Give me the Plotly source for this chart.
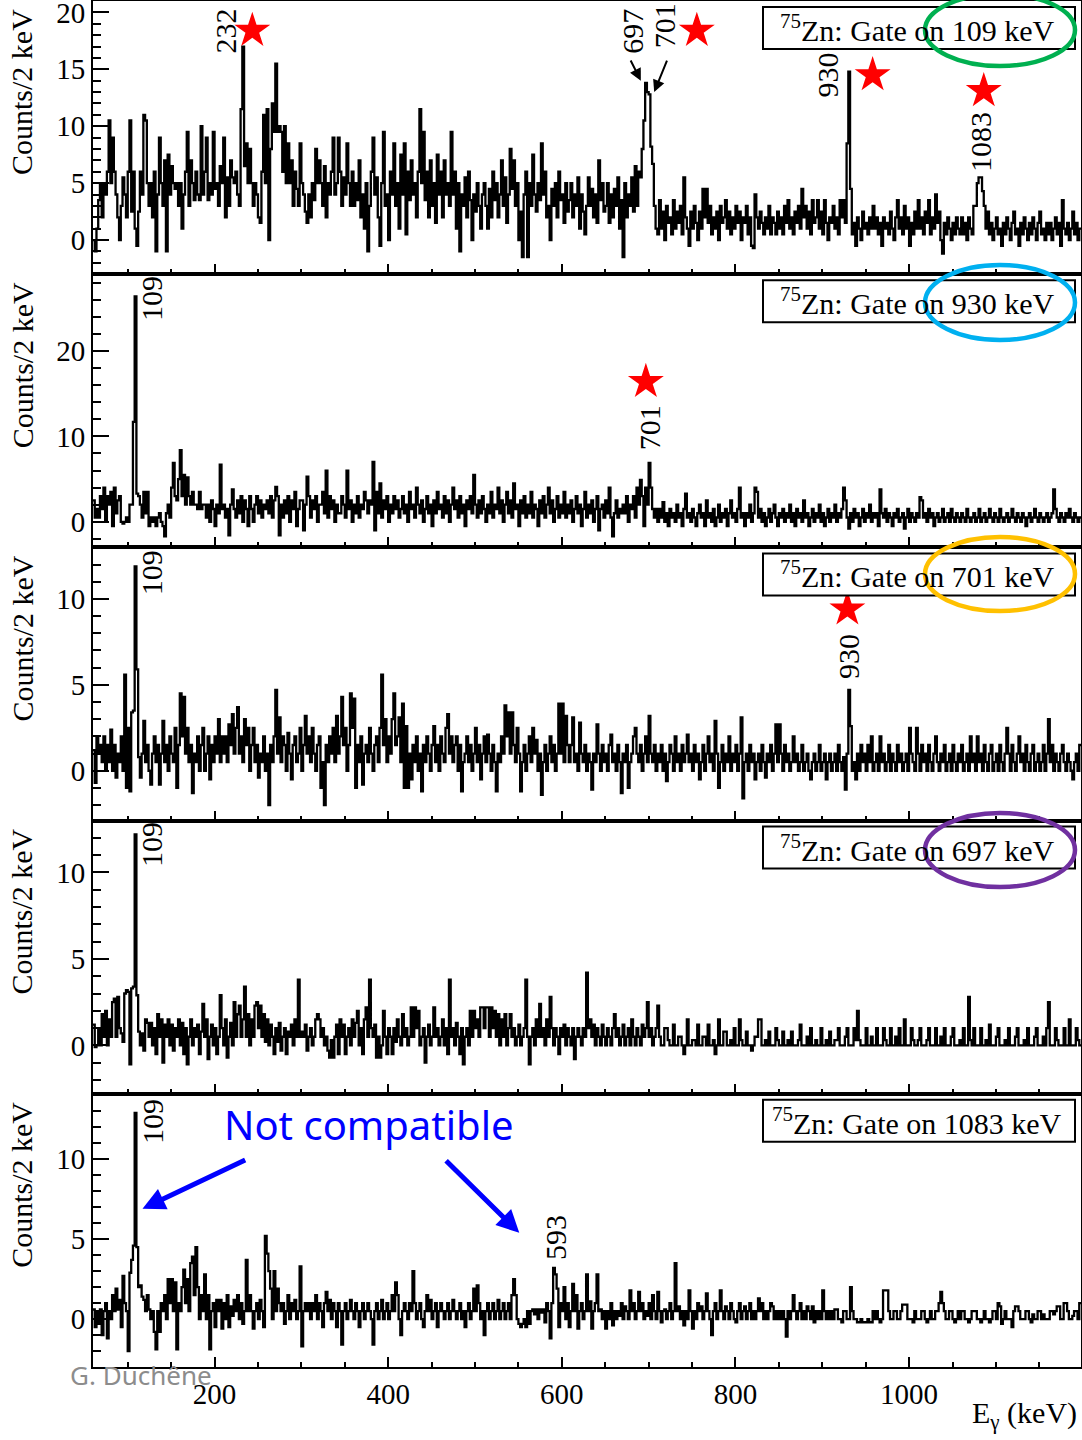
import plotly.graph_objects as go
from plotly.subplots import make_subplots

# ---------------- data ----------------
E_START = 60      # keV, lower edge of first bin
BIN_W = 2         # keV per bin (Counts/2 keV)
ROW_SPAN = 50     # each row of values below covers 50 keV (25 bins)
E_MAX = 1198
XTICK_MAJOR = 200
XTICK_MINOR = 50

gate_109 = [
    [0, -1, 1, 3.5, 5, 2, 5, 4, 6, 10.5, 5, 9, 6, 4, 2, 0, 3, 5.5, 4, 2, 6, 10.5, 2.5, 6, 1],
    [-0.5, 2.5, 6, 4, 11, 10.5, 5, 3, 5, 2, 6, -1, 4, 9, 5, 3, 7, -1, 7.5, 4, 6.5, 5, 4.5, 5, 3],
    [5, 1, 4, 6, 9.5, 3, 7, 5, 3.5, 6, 4, 3.5, 10, 4, 6, 9, 3.5, 5, 4, 9.5, 4.5, 5, 3, 6.5, 5],
    [9, 2, 5.5, 3, 7, 5.5, 5, 6, 4, 3, 11.5, 17, 6.5, 8.5, 5, 8, 5, 3, 5, 4, 2, 1.5, 6, 11, 5],
    [11.5, 0, 8, 12, 9.5, 15.5, 9.5, 10, 9.5, 6, 10, 5, 8.5, 5, 7, 3, 6, 4.5, 3, 8.5, 5, 4, 2.5, 1.5, 4],
    [2, 5, 3.5, 8, 5, 7, 5, 3, 6.5, 2, 5, 4, 6, 9, 4, 5, 9, 6, 3, 5.5, 4, 8.5, 5, 3, 6],
    [3, 5, 3.5, 7, 2, 4, 1, 5, -1, 3, 6, 9, 4, 5.5, 2, -0.5, 5, 9.5, 3, 4, 0, 6, 4, 8.5, 3],
    [5, 1, 7.5, 4, 8.5, 0.5, 6, 3.5, 7, 4, 5, 2, 6, 11.5, 5, 9.5, 3.5, 6, 2, 7, 3, 5, 1.5, 7.5, 4],
    [6, 2, 7, 4, 5, 3, 9.5, 4, 6, 1, 5, -1, 4, 3, 5.5, 2, 6, 3.5, 0, 4, 2.5, 5, 3, 1, 4],
    [5, 3, 1, 4.5, 2, 6, 3.5, 5, 2, 4, 7, 3, 5.5, 1.5, 4, 8, 4.5, 7, 3, 5, 0, 2.5, -1.5, 4, 6],
    [-1.5, 5, 3, 7.5, 4, 2.5, 5, 3.5, 8.5, 4, 6, 2, 3, 0, 4.5, 3, 5, 2, 6, 3.5, 4, 1.5, 5, 2.5, 3.5],
    [5, 2, 4, 3, 5.5, 1, 4, 2.5, 0.5, 3, 5.5, 3, 4.5, 2, 4, 1.5, 7, 3.5, 5, 2.5, 3, 5, 1.5, 4, 2],
    [4.5, 3, 5.5, 1, 3.5, -1.5, 5, 2, 4, 3, 5.5, 2.5, 6.5, 3, 6, 5.5, 8, 10.5, 13.8, 13, 12.8, 8.2, 6.7, 3, 1],
    [0.5, 3.5, 1, 2.5, 0, 3, 1.5, 2, 0.5, 3.5, 1, 2.5, 1.5, 3, 0.5, 5.5, 2, 1, -0.5, 2.5, 1, 3, 1.5, 0, 2.5],
    [1, 4.5, 2, 4.5, 1.5, 3, 0.5, 2, 1, 2.5, 0, 3, 1.5, 2, 3.5, 1, 2.5, 0.5, 2, 1, 3, 1.5, 2.5, 0, 2],
    [1.5, 3, 0.5, 2, -0.5, -0.7, 4, 2, 1, 2.5, 1.5, 0.5, 2, 1, 3, 0.5, 2, 1.5, 0.5, 2.5, 1, 2, 0.5, 3, 1.5],
    [3.5, 1, 2, 0.5, 2.5, 1.5, 3, 1, 4.5, 2, 3, 1, 2.5, 0.5, 3.5, 1.5, 2, 3.5, 1, 2.5, 0.5, 3.5, 1.5, 0, 2],
    [1.5, 3, 1, 2, 0.5, 3.5, 2, 3.5, 1.5, 8.5, 14.8, 4.5, 0.5, 1.5, -0.5, 2, 1, 0, 2.5, 1, 1.5, 0.5, 2, 1, 3],
    [1, 2, 0.5, 1.5, -0.5, 2, 1, 1.5, 0.5, 2.5, 1, 0, 2, 3.5, 1, 2, 0.5, 3, 1, 2, -0.5, 1.5, 0.5, 2.5, 1],
    [3.5, 1, 2, 0.5, 2.5, 1.5, 3.5, 0.5, 2, 1, 4, 1.5, 2.5, 0, -1.2, 1.5, 0.5, 2, 1, 0, 1.5, 0.5, 2, 1, 0.5],
    [2, 0.5, 1.5, 0, 2, 1, 0.5, 3, 3, 5, 5.5, 5.5, 4.3, 3, 1, 2.5, 0.5, 1.5, 0, 1, 2, 0.5, 1, -0.5, 1.5],
    [0.5, 2, 1, 0, 1.5, 2.5, 0.5, 1, -0.5, 1.5, 0.5, 2, 1, 0, 1.5, 0.5, 2, 1, 0, 1.5, 2.5, 0.5, 1, 0, 1.5],
    [0.5, 1.5, 0, 1, 2, 0.5, 1.5, -0.5, 3.5, 1, 0.5, 1.5, 0, 1, 2.5, 0.5, 1.5, 0, 1],
]

gate_930 = [
    [2.5, 0.5, 1.5, 0.5, 3, 1.5, 4, 0, 3, 2, 3.5, -0.5, 4, 1, 2.5, 3, 0, -0.2, 0, 0.5, 0, 2, 2, 11.7, 26.4],
    [3.3, 3, 2, 0.5, 3.5, 1, 3.5, -0.5, 0.5, 0, 0.5, -0.5, 0.5, 1, 0, -0.5, -1.7, 1, 2, 0.5, 4, 6.9, 3, 2.5, 5],
    [8.4, 3, 5.5, 2, 5.2, 3, 2, 3.5, 2, 2, 1.5, 3.5, 1.5, 2, 2, 0.5, 2, 0, 2.5, 1.5, -0.5, 2, 1, 6.7, 1.5],
    [2, 0.5, 1.5, -1.6, 2, 3.8, 1.5, 0.5, 2.5, 1, 3, 0, 2.5, 1.5, -0.5, 3, 1.5, 0, 2, 3, 1, 2.5, 0.5, 2, 1.5],
    [2.5, 1, 3, 0.5, 2.5, 4.1, 3, -1.6, 2, 0.5, 2.5, 1, 3, 0, 2.5, 1.5, 3.5, -0.5, 1.5, 2.5, 2.5, -1, 2, 5.3, 3],
    [0.5, 2.5, 1.5, 3, 0, 2, 2, 3.5, 1, 6, 0.5, 3, 1.5, 2.5, 0, 2, 1, 1, 3, 2, 0.5, 6, 1.5, 2.5, 0],
    [2, 1, 3, 0.5, 2, 1.5, 3.5, 2.5, 1, 2.5, 2, 7, -1, 3.5, 1, 4.5, 0.5, 2.5, 1.5, 3, 0, 2, 1, 3, 1.5],
    [2.5, 0.5, 1.5, 3, 1, 2, 0, 3.5, 1.5, 2, 0.5, 4, 2, 1, 2.5, 0, 1.5, 3, 1, 2, -0.5, 2.5, 1, 3.5, 1.5],
    [2, 0.5, 3, 1, 2.5, 0, 2, 4, 1.5, 2.5, 0.5, 3, 1, 2, -0.5, 2.5, 1.5, 3, 1, 5.5, 2, 0.5, 2.5, 1, 3],
    [1.5, 0, 2, 1, 3.5, 0.5, 2, 1.5, 4, 1, 2.5, 0, 2, 3.5, 1, 2.5, 0.5, 4.5, 1.5, 2, -0.5, 2.5, 1, 3, 0.5],
    [2, 1, 3.5, 0.5, 2, 1.5, -0.5, 2.5, 1, 3, 0.5, 2, 4, 1, 2.5, 0, 1.5, 3, 0.5, 2, 1, 3.5, 0.5, 2, 1],
    [2.5, 0, 1.5, 3, 1, 2, -0.5, 1.5, 3.5, 0.5, 2, 1, 2.5, 0, 1.5, 3, -1, 1.5, 2, 0.5, 2.5, 1, 4, 0.5, -1.7],
    [1, 2.5, 0.5, 1.5, 1, 2, 1, 3, 0, 2, 1.5, 3, 0.5, 4, 2, 4.9, 3, -0.5, 4, 2, 6.9, 4, 1.5, 0.5, 1.5],
    [0, 1.5, 0.5, 2.3, 0, 1, -0.5, 1.5, 0.5, 1, 0, 2, 0.5, 1, -0.5, 1.5, 3.3, 0.5, 1, 0, 1.5, 0.5, -0.5, 1, 2],
    [0.5, 1, -0.5, 2.5, 0.5, 1, 0, 1.5, -0.5, 0.5, 2, 0, 1, 0.5, 1.5, -0.5, 1, 2.5, 0.5, 1, 0, 1.5, 4, 0.5, 1],
    [-0.5, 1, 0.5, 2, 0, 1, 4, 3.5, 0.5, 1.5, 0, 1, -0.5, 0.5, 1.5, 0, 1, 2, 0.5, -0.5, 1, 0.5, 1.5, 0, 1],
    [0.5, 2, 0, 1, -0.5, 1.5, 0.5, 1, 0, 2.5, 0.5, 1, -0.5, 0.5, 1.5, 0, 1, 0.5, 2, 0, 1, -0.5, 0.5, 1.5, 0],
    [1, 0.5, 2, 0, 1, 0.5, 1.5, 4, 2.5, 0.5, -0.8, 1, 0, 1.5, 0.5, 1, -0.5, 0.5, 1.5, 0, 1, 0.5, 2, 0, 1],
    [0.5, 1, -0.5, 3.8, 1, 0.5, 1.5, 0, 1, 0.5, -0.5, 1, 0.5, 1.5, 0, 0.5, 1, -0.8, 0.5, 1.5, 0, 1, 0.5, 0, 1],
    [0.5, 2.9, 2.5, 0.5, 1, 0, 1.5, 0.5, 1, -0.5, 0.5, 1, 0, 0.5, 1.5, 0, 0.5, 1, 0, 1.5, 0.5, 0, 1, 0.5, 0],
    [1, 0.5, 0, 1.5, 0.5, 0, 0.5, 1, 0, 0.5, 1.5, 0, 0.5, 1, 0, 0.5, 1.5, 0.5, 0, 1, 0.5, 0, 1.5, 0.5, 0],
    [0.5, 1, 0, 0.5, 1.5, 0.5, 0, 1, 0.5, 0, 1, 0.5, -0.5, 0.5, 1, 0, 0.5, 1.5, 0.5, 0, 1, 0.5, 0, 0.5, 1],
    [0, 0.5, 1, 3.8, 1.5, 0.5, 0, 1, 0.5, 0, 1, 0.5, 1.5, 0.5, 0, 1, 0.5, 0, 0.5],
]

gate_701 = [
    [1.2, -0.7, 2, 1, 1.5, 0.5, 2, 0, 1.5, 0.5, 2.4, 0, 1.5, -0.4, 1, 0.5, 2, 0, 5.6, -1, 2.5, -1.2, 3.4, 3.5, 11.9],
    [5.9, 0.8, -0.4, 1, 2.9, 0.5, 1.5, 0, -0.8, 1, 2, 0.5, 1.5, -0.8, 1, 2.9, 0.5, 1.5, 0, 2, 1, 0.5, 2.5, -1, 1.5],
    [4.5, 2, 4.3, 1, 2.5, 0.5, 1.5, -1.3, 1, 0.5, 2, 0, 1.5, 2.5, 0, 1, 2, -0.5, 1.5, 0.5, 2, 1, 3, 0.5, 2],
    [1, 2, 0.5, 2.7, 1.5, 3.3, 1, 2.5, 3.7, 1, 2, 0.5, 3, 1.5, 2.5, 0, 1.5, 2.5, 0.5, 1.5, -0.4, 1, 0.5, 2, 0],
    [1, -2, 1.5, 0.5, 2, 4.7, 1, 3.1, 0.5, 2, 1.5, 0, 2.2, 1, -0.5, 1.5, 2, 0.5, 1, 2.5, 0, 1.5, 3.2, 1, 2],
    [0.5, 2.5, 1, 0, 1.5, 2, -1, 0.5, -2, 1.5, 0.5, 2, 1, 2.5, 0.5, 3.2, 1, 2, 4.3, 1.5, 2.5, 0, 1.5, 4.5, 2.5],
    [4.2, -1, 1.5, 0.5, 2, -0.8, 1, 1.5, 0.5, 2.5, 1, 0, 1.5, 2, 0.5, 2.5, 5.6, 1.5, 3, 0.5, 2, 1, 3, 4.5, 1.5],
    [2, 3.1, 0.5, 3.9, -1, 2.6, -1, 1, -0.5, 1.5, 0.5, 2, 0, 1, -1.2, 1.5, 0.5, 2, 1, 0, 1.5, 2.6, 0.5, 1.5, 0],
    [2, 1, 0.5, 2.5, 3.3, 1, 2, 0.5, 1.5, 2, 0, 1.5, -1.2, 0.5, 1, 2, 0.5, 1.5, 0, 1, 2.5, 0.5, 1.5, -0.5, 1],
    [2, 0.5, 2.1, 1, 0, 1.5, 0.5, -1.2, 1, 0.5, 2, 1, 3.8, 2, 3.4, 1, 3.4, 1.5, 0.5, 2.5, 1, -1.2, 0.5, 1.5, 0],
    [1, 2, 0.5, 2.5, 1, 1.8, 0, 1, -1.4, 0.5, 1.5, 0, 1, 2, 0.5, 1.5, 0, 1, 3.9, 1, 3.9, 0.5, 3.2, 1.5, 0.5],
    [1.5, 3.1, 0.5, 1, 0, 2.8, 1, 0.5, 1.5, 0, 1, 0.5, -1.1, 1, 0.5, 2.7, 1, 0, 1.5, 0.5, 1, 0, 1.5, 2.1, 0.5],
    [1, 0, 1.5, 0.5, -1.3, 1, 0.5, 1.5, -1, 0.5, 1, 2, 2.5, 1, 0.5, 1.5, 0, 1, 2, 0.5, 3.2, 1, 0.5, 1.5, 0],
    [1, 0.5, 1.5, 0, 1, -0.6, 0.5, 1.5, 1, 0, 2, 0.5, 1, 0, 1.5, 0.5, 1, 2.1, 0.5, 1, 0, 1.5, 0.5, 1, -0.5],
    [0.5, 1.5, 0, 1, 2, 0.5, 1, 0, 2.9, 1, -1, 0.5, 1.5, 0, 1, 0.5, 2, 0, 1, 0.5, 1.5, 0, 1, 3.1, -1.6],
    [0.5, 1, 0, 1.5, 0.5, 1, -0.5, 0.5, 1, 0, 1.5, 0.5, -0.4, 1, 0.5, 1.5, 0, 1, 2.7, 0.5, 2.7, 1, 0, 1.5, 0.5],
    [1, 0, 0.5, 2, 0.5, 1, 0, 0.5, 1.5, 0, 0.5, 1, 0, -0.5, 0.5, 1, 0, 0.5, 1.5, 0, 0.5, 1, -0.5, 0.5, 1],
    [0, 0.5, 1, 0, 1.5, 0.5, 0, 0.8, -1.1, 1, 4.7, 2.6, 0, 0.5, -0.5, 1, 0, 1.5, 0.5, 1, 0, 1.5, 0.5, 2, 0],
    [0.5, 1, 0, 2, 0.5, 1, 0, 0.5, 1.5, 0, 1, 0.5, 0, 1.5, 0.5, 1, 0, 0.5, 1, 0, 2.5, 1, 0.5, 0, 2.5],
    [1, 0, 1.5, 0.5, 1, 0, 1.5, 0.5, 0, 1, 2, 0.5, 0, 1, 0.5, 1.5, 0, 0.5, 1, 0, 1.5, 0.5, 0, 1, 0.5],
    [1.5, 0, 0.5, 1, 0, 2, 0.5, 1, 0, 2, 0.5, 1, 0, 1.5, 0.5, 0, 1, 1.5, 0, 0.5, 1, 0, 1.5, 0.5, 0],
    [1, 2.5, 1, 0, 1.5, 0.5, 0, 1, 2, 0.5, 1, 0, 1.5, 0.5, 0, 1, 1.5, 0, 0.5, 1, 0, 0.5, 1.5, 0, 1],
    [3, 0.5, 1.5, 0, 1, 0.5, 0, 1, 1.5, 0.5, 0, 1, 0.5, 0, -0.5, 0.5, 1, 0, 1.5],
]

gate_697 = [
    [1.2, -0.1, 0, 1, 0, 1.8, 0.5, 2, 0, 1.5, 0.5, 2.5, 2.7, 0.5, 2.8, 1, 0.7, 0.2, 3, 3.2, 3.1, -1.1, 3.3, 3.4, 12.2],
    [2.9, 0.8, 0, 0.7, -0.3, 1.5, 1.3, 0.5, 1.3, 0, 1, -0.5, 1.8, 0.5, 1.5, -1, 1.2, 0.5, 1.5, 0, 1.2, -0.3, 1, 0.5, 1.5],
    [0, 1.3, -0.5, 1, -1.1, 0.5, 1.5, 0, 1, 0.5, 1.2, -0.5, 0.8, 2.4, 0.5, 1.5, -0.8, 0.5, 1.2, 0, 1, -0.5, 0.5, 2.9, 1],
    [0, 1.5, -0.7, 0.5, 1.3, 0, 2.5, 0.5, 1.8, 2.3, 0.5, 1.5, 3.4, 0.5, 1.8, 0, 1.5, 0.5, 2.3, 2.5, 1, 2.3, 0.5, 1.8, 0.2],
    [1.5, 0, 1.2, 0.5, -0.5, 1, 0.2, 1.3, -0.3, 0.5, 1, -0.5, 0.8, 0.5, 1.2, 0, 1.5, 0.5, 3.8, 0.5, 0.8, 0.5, 1.2, -0.3, 0.5],
    [1, 0, 0.5, 1.5, 1.8, 1.5, 0.5, 1, 0, 0.5, -0.3, -0.7, 0.3, -0.7, 0.5, 1.2, -0.5, 1.5, 0.5, 1.2, -0.5, 0.5, 1, 0, 1.5],
    [0.5, 1.3, 2, 0, 1, -0.5, 1.5, 2.2, 0.5, 3.8, 1, 0.5, 1.2, -0.7, 0.5, -0.7, 0, 2, 0.5, -0.5, 1, 0.5, -0.5, 1, 0.2],
    [1.5, 0.5, 0, 1.8, 0.5, 1, 0, 0.5, 2.2, 0.5, 2.2, 1, 2, 0, 0.5, 1, -1, 0.5, 1.2, 0, 0.5, 2.2, 0.5, 1, 0],
    [0.5, 1.5, 0, 1, -0.5, 3.8, 0.5, 1, 0, 1.3, 0.5, -0.5, 1, -1.1, 0.5, 1, 0, 2, 0.5, 2, 1, 1.5, 0.5, 2.2, 2.2],
    [1, 2.2, 2.2, 0.5, 2.2, 1, 2, 0.5, 1.8, 0, 1.5, 0.5, 1.8, 0, 1, 1.8, 0.5, 1, 0, 0.5, 1.2, 0, 0.5, 1, 3.8],
    [0.5, -1.1, 0.5, 1, 0, 1.5, 0.5, 2.4, 0.5, 1, 0, 1.5, 0.5, 2.8, 1, 0, 1, 0.5, -0.5, 1, 0.5, 1.2, 0, 1, 0.5],
    [0, 1, -0.8, 0.5, 1, 0.5, 0, 1, 0.5, 4.2, 1, 1.5, 0.5, 1.2, 0, 1, 0.5, 0, 1.2, 0.5, 0, 1, 0.5, 0, 1],
    [1.8, 0.5, 1, 0, 0.5, 1.2, 0, 0.5, 1, 0, 1.5, 0.5, 0, 1, 0.5, 0, 1.2, 0.5, 1, 2.5, 0.5, 1, 0, 0.5, 1],
    [2.3, 0.5, 0, 0, 1, 1, 0.3, 0, 0, 1.2, 0, 0, 0.5, 0.5, 0, -0.5, 0, 1.5, 0, 0, 0.3, 0.3, 0, 1.2, 0],
    [0, 0.5, 0.5, 0, 1.2, 0, 0, 0.3, -0.5, 0, 1.5, 0, 0, 0.8, 0.8, 0, 0, 0.3, 0, 1, 0, 0, 1.5, 0.3, 0],
    [0, 0.8, 0, 0, -0.3, 0, 0.5, 0.5, 1.5, 1.5, 0, 0, 0.3, 0, 0.8, 0, 0, 0, 1, 0.3, 0, 0, 0.8, 0, 0],
    [0.3, 0, 0.8, 0, 0, 0, 0.3, 1.2, 0, 0, 0, 0.5, 0, 1, 0, 0, 0.3, 0, 0, 1, 0, 0, 0.3, 0, 0.8],
    [0, 0, 0.3, 0.3, 1, 0, 0, 0, 0.5, 1, 0, 0, 0, 1, 0.3, 2, 0.3, 0, 0, 0, 1, 0, 0, 0.5, 0],
    [0, 1, 0, 0, 0, 1, 0.3, 0, 0, 1, 0, 0, 0.5, 0, 1, 0, 0, 1.5, 0, 0, 0, 1, 0.3, 0, 0],
    [0.3, 1, 0, 0, 0, 0.3, 1, 0, 0, 0, 1, 0, 0, 0.5, 0, 1, 0, 0, 0, 0.5, 1, 0, 0, 0, 0.3],
    [0, 1, 0, 0, 2.8, 0.3, 0, 1, 0, 0, 0, 1, 0, 0, 0.3, 0, 1.2, 0, 0, 0, 0.5, 1, 0, 0, 0],
    [0.3, 0, 1, 0, 0, 0, 0.5, 1, 0, 0, 0, 0.3, 0, 1, 0, 0, 0, 0.5, 1, 0, 0, 0, 0.5, 0, 1],
    [2.5, 0, 0, 0, 1, 0.3, 0, 0, 0, 1, 0, 0, 1.5, 0, 0, 0, 1, 0.3, 0],
]

gate_1083 = [
    [0.6, -0.5, 0.5, -0.3, 0.6, -1, 0.5, 1, -1.2, 0.5, 0, 1.5, 0.5, 1.9, 0.6, 1.2, -0.5, 2.7, 1, 0.5, -2, 2.9, 3.7, 4.6, 12.9],
    [4.5, 2, 2.1, 1.4, 1.2, 0.5, 1.5, 0.6, 0, 0.5, -0.8, -1.9, 0.5, -0.8, 1, 0.5, 1.5, 0, 2.5, 1, 2.5, 0.5, 2.3, -1.9, 1],
    [0.5, 2, 3.1, 1, 2.5, 0.5, 3.5, 3.9, 1.5, 4.5, 2, 0, 1.5, 0.5, 2.8, 0, 1.5, -1.9, 0.5, 1, -0.5, 1.2, 0.5, 1.2, -0.6],
    [1, 0, 1.5, -0.5, 0.8, 0.2, 1.2, 0.5, 1.5, 0, 1, -0.3, 0.5, 3.7, 0.5, 1.5, 0.5, -0.6, 0.5, 1, 0, 1.2, 0.5, -0.5, 5.2],
    [4.1, 3, 1.9, 0, 3, 0.5, 1.9, 1, 0.5, 1, -0.3, 0.5, 1.5, 0, 1, 0.5, 1.2, 0, 0.5, 3.3, -1.7, 0.5, 1, 0.5, 1],
    [0, 1, 0.5, 1.5, 0, 1, 0.5, -0.5, 1, 1.7, 0.5, 1.2, 0, 1, 0.5, -0.5, 1, 0.5, -1.6, 0.5, 1, 0, 0.5, 1.2, 0.5],
    [0, 1, 0.5, -0.5, 0.5, 1, 0, 0.5, 1, 0.5, 0, -1.6, 0.5, 1, 0, 0.5, 1.2, 0, 0.5, 1, 0, 0.5, 1.5, 0.5, 2.3],
    [1.5, 0, -1, 0.5, 1, 0.5, 0, 1, 0.5, 3, 1, 0, 0.5, 1, 0, -0.5, 0.5, 1.5, 0.5, 1.2, 0, 0.5, 1, -0.5, 0.5],
    [1, 0.5, 0, 0.5, 1, 0, 0.5, 1.2, 0.5, 0, 0.5, 1, 0, 0.5, -0.5, 0.5, 1, 0, 0.5, 1.9, 0.5, 2.1, 1, 0, 0.5],
    [-1, 0.5, 1, 0, 0.5, 1, 0, 0.5, 1.2, 0, 0.5, 1, 0, 0.5, 1, 0, 1.5, 2.5, 1.5, 0, -0.3, -0.5, -0.3, 0, -0.5],
    [0.5, -0.3, 0.5, 0.6, 0.3, 0.6, 0, 0.6, 0.4, 0.6, -0.2, 1, 0.5, -1.2, 1, 3.2, 2.8, 1.9, -0.5, 1, 0.5, 2, 0, 1, -0.5],
    [0.5, 2.2, 0.5, 1.5, -0.6, 0.5, 1, 0, 0.5, 2.8, 0.5, 1.1, -0.6, 0.5, 1, 2.8, 0.5, 0.6, 0, 0.5, -0.6, 0.5, 0, 1, -0.4],
    [0.5, 0, 0.5, 0.2, 1, 0, 0.8, 0.5, 0, 1.8, 0.5, 1, 0, 0.5, 1.7, 0.5, 1, 0, 0.5, 0.2, 1, 0, 1.5, 0.5, 0],
    [1.7, 0.5, -0.2, 0.5, 0.6, 0, 0.5, 1, 0, 0.5, 3.5, 0.5, 0.8, 0, 0.5, -0.4, 0.5, 0, 1.8, 0.5, -0.6, 0.5, 0, 1, 0.5],
    [0.8, 0, 0.5, 1.6, 0.5, 0, -1, 0.5, 1, 0, 0.5, 1.8, 0.5, 0, 0.8, 0.5, 0, 1, 0.5, 0, -0.2, 0.5, 1, 0, 0.5],
    [0.8, 0, 0.5, 1, 0, 0.5, 0, 0.5, 1.3, 0.5, 1, 0, 0.5, 0, 0.5, 1, 0.8, 0, 0.5, 0, 0.5, 0, 0.5, 0, -1.1],
    [0.5, 0, 0.5, 1.5, 0.5, 0, 0.5, 1, 0, 0.5, 0, 0.8, 0.5, 0, 0.8, -0.2, 0.5, 0, 0.5, 0, 1.8, 0.5, 0, 0.5, 0],
    [0.5, 0, 0.6, 0.6, 0, 0, -0.2, 0.5, 0.5, 0, 0, 2, 0.5, 0, 0, -0.2, -0.2, 0, -0.2, -0.2, -0.2, 0, -0.2, -0.2, 0.5],
    [0, 0.5, 0, -0.2, 0, 1.8, 1.8, 1.8, 0.5, 0, 0, 0.5, 0.5, 0, 0, 0.5, 0.9, 0.9, 0.9, 0, 0, 0, -0.2, 0.5, 0],
    [0, 0, 0.5, 0.5, 0, -0.2, 0, 0.5, 0, 0, 0.5, 0.5, 1, 1.7, 1, 0.5, 0, 0, 0.5, 0.5, 0, -0.2, 0, 0.5, 0],
    [0.5, 0.5, 0, 0, -0.2, 0, 0.5, 0.5, 0.5, 0, 0, -0.2, 0, 0.5, 0, 0, -0.2, 0, 0.5, 0.5, 0, 1, 0.8, -0.3, 0],
    [0.5, 0, 0, 0, -0.5, 0.5, 0.8, 0.8, 0.5, 0, 0, 0, 0.5, 0.5, 0, -0.2, 0.3, 0, 0, 0.5, 0.5, 0, 0.3, 0, 0],
    [0, 0.5, 0.5, 0.3, 0.5, 0.8, 0.8, 0, 0, 1, 1, 0.5, 0, 0, 0.2, 0.5, 0.5, 0, 1],
]

gate_labels = ["109", "930", "701", "697", "1083"]
spectra = [gate_109, gate_930, gate_701, gate_697, gate_1083]
y_ranges = [[-3, 21], [-3, 29], [-2.9, 13], [-2.8, 13], [-3, 14.1]]
y_major = [5, 10, 5, 5, 5]
y_minor = [1, 2, 1, 1, 1]

# peak labels: (panel, text, energy, count at bottom of label)
peak_labels = [
    (1, "232", 212.5, 16.2), (1, "697", 680.5, 16.2), (1, "701", 718.5, 16.7),
    (1, "930", 905.5, 12.3), (1, "1083", 1081.5, 5.8),
    (2, "109", 127.5, 23.3), (2, "701", 700.3, 8.2),
    (3, "109", 127.5, 10.1), (3, "930", 930.8, 5.2),
    (4, "109", 127.5, 10.2),
    (5, "109", 128.0, 10.8), (5, "593", 592.0, 3.6),
]
# red stars: (panel, energy, count)
stars = [
    (1, 243.5, 18.4), (1, 755.5, 18.4), (1, 958.0, 14.5), (1, 1086.0, 13.1),
    (2, 696.8, 16.4), (3, 928.9, 9.4),
]
ellipse_colors = {1: "#00B050", 2: "#00B0F0", 3: "#FFC000", 4: "#7030A0"}

# ---------------- figure ----------------
W, H = 1082, 1440
ML, MR, MT, MB = 93, 1, 1, 73
PW = W - ML - MR
PH = H - MT - MB
SERIF = "Liberation Serif"
SANS = "Noto Sans"


def px2paper_x(px):
    return (px - ML) / PW


def px2paper_y(py):
    return (H - MB - py) / PH


def histogram_xy(rows):
    xs, ys = [], []
    for k, row in enumerate(rows):
        start = E_START + ROW_SPAN * k
        for i, v in enumerate(row):
            xs.append(start + BIN_W * i)
            ys.append(v)
    xs.append(xs[-1] + BIN_W)
    ys.append(ys[-1])
    return xs, ys


fig = make_subplots(rows=5, cols=1, shared_xaxes=True, vertical_spacing=0)

for n, rows in enumerate(spectra, start=1):
    xs, ys = histogram_xy(rows)
    fig.add_trace(go.Scatter(x=xs, y=ys, mode="lines", line=dict(color="black", width=2.3, shape="hv"),
                             showlegend=False, hoverinfo="skip"), row=n, col=1)

for n in range(1, 6):
    sx = [s[1] for s in stars if s[0] == n]
    sy = [s[2] for s in stars if s[0] == n]
    if sx:
        fig.add_trace(go.Scatter(x=sx, y=sy, mode="markers",
                                 marker=dict(symbol="star", size=27, color="#FF0000", line=dict(width=0)),
                                 showlegend=False, hoverinfo="skip"), row=n, col=1)

for n in range(1, 6):
    fig.update_yaxes(row=n, col=1, range=y_ranges[n - 1], dtick=y_major[n - 1], tick0=0,
                     ticks="inside", ticklen=16, tickwidth=2, tickcolor="black",
                     minor=dict(dtick=y_minor[n - 1], ticks="inside", ticklen=8, tickwidth=2, tickcolor="black"),
                     showline=True, linecolor="black", linewidth=2, mirror=True,
                     showgrid=False, zeroline=False, ticklabeloverflow="allow",
                     tickfont=dict(family=SERIF, size=29, color="black"))
    fig.update_xaxes(row=n, col=1, range=[E_START, E_MAX], dtick=XTICK_MAJOR, tick0=0,
                     ticks="inside", ticklen=10, tickwidth=2, tickcolor="black",
                     minor=dict(dtick=XTICK_MINOR, ticks="inside", ticklen=5, tickwidth=2, tickcolor="black"),
                     showline=True, linecolor="black", linewidth=2, mirror=True,
                     showgrid=False, zeroline=False, ticklabeloverflow="allow",
                     tickfont=dict(family=SERIF, size=29, color="black"))

annotations = []
shapes = []
for n in range(1, 6):
    yd = "y domain" if n == 1 else f"y{n} domain"
    # y title
    annotations.append(dict(text="Counts/2 keV", xref="paper", yref=yd, x=px2paper_x(22), y=1 - 91 / (PH / 5),
                            xanchor="center", yanchor="middle", textangle=-90, showarrow=False,
                            font=dict(family=SERIF, size=30, color="black")))
    # gate box
    shapes.append(dict(type="rect", xref="paper", yref=yd, x0=px2paper_x(763), x1=px2paper_x(1075),
                       y0=1 - 48 / (PH / 5), y1=1 - 6 / (PH / 5), line=dict(color="black", width=2),
                       fillcolor="white", layer="above"))
    annotations.append(dict(text=f"<sup>75</sup>Zn: Gate on {gate_labels[n - 1]} keV", xref="paper", yref=yd,
                            x=px2paper_x(917), y=1 - 27 / (PH / 5), xanchor="center", yanchor="middle",
                            showarrow=False, font=dict(family=SERIF, size=30, color="black")))

ellipse_px = {1: (-6, 66), 2: (265, 340), 3: (537, 611), 4: (813, 887)}
for n, (top, bot) in ellipse_px.items():
    shapes.append(dict(type="circle", xref="paper", yref="paper", x0=px2paper_x(925), x1=px2paper_x(1075),
                       y0=px2paper_y(bot), y1=px2paper_y(top), line=dict(color=ellipse_colors[n], width=4.5),
                       layer="above"))

for (n, txt, e, c) in peak_labels:
    xr = "x" if n == 1 else f"x{n}"
    yr = "y" if n == 1 else f"y{n}"
    annotations.append(dict(text=txt, x=e, y=c, xref=xr, yref=yr, xanchor="center", yanchor="bottom",
                            textangle=-90, showarrow=False, font=dict(family=SERIF, size=30, color="black")))

# black arrows for the 697/701 doublet
for (hx, hy, tx, ty) in [(691.0, 14.0, 678.4, 15.9), (706.4, 13.0, 721.8, 15.9)]:
    annotations.append(dict(text="", x=hx, y=hy, ax=tx, ay=ty, xref="x", yref="y", axref="x", ayref="y",
                            showarrow=True, arrowhead=2, arrowsize=1.2, arrowwidth=2, arrowcolor="black",
                            standoff=0))

# blue arrows and text in bottom panel
for (hx, hy, tx, ty) in [(117.0, 6.9, 237.0, 10.0), (551.0, 5.4, 465.0, 10.0)]:
    annotations.append(dict(text="", x=hx, y=hy, ax=tx, ay=ty, xref="x5", yref="y5", axref="x5", ayref="y5",
                            showarrow=True, arrowhead=2, arrowsize=0.9, arrowwidth=5, arrowcolor="#0000FF",
                            standoff=0))
annotations.append(dict(text="Not compatible", xref="paper", yref="paper", x=px2paper_x(369), y=px2paper_y(1124),
                        xanchor="center", yanchor="middle", showarrow=False,
                        font=dict(family=SANS, size=40, color="#0000FF")))
annotations.append(dict(text="G. Duchêne", xref="paper", yref="paper", x=px2paper_x(141), y=px2paper_y(1375),
                        xanchor="center", yanchor="middle", showarrow=False,
                        font=dict(family=SANS, size=26, color="#8C8C8C")))
annotations.append(dict(text="E<sub>γ</sub> (keV)", xref="paper", yref="paper", x=px2paper_x(1079), y=px2paper_y(1415),
                        xanchor="right", yanchor="middle", showarrow=False,
                        font=dict(family=SERIF, size=30, color="black")))

fig.update_layout(width=W, height=H, margin=dict(l=ML, r=MR, t=MT, b=MB, autoexpand=False),
                  plot_bgcolor="white", paper_bgcolor="white",
                  annotations=annotations, shapes=shapes, showlegend=False)

fig.write_html("out.html", config={"displayModeBar": False},
               post_script="document.body.style.margin='0';document.body.style.padding='0';")
